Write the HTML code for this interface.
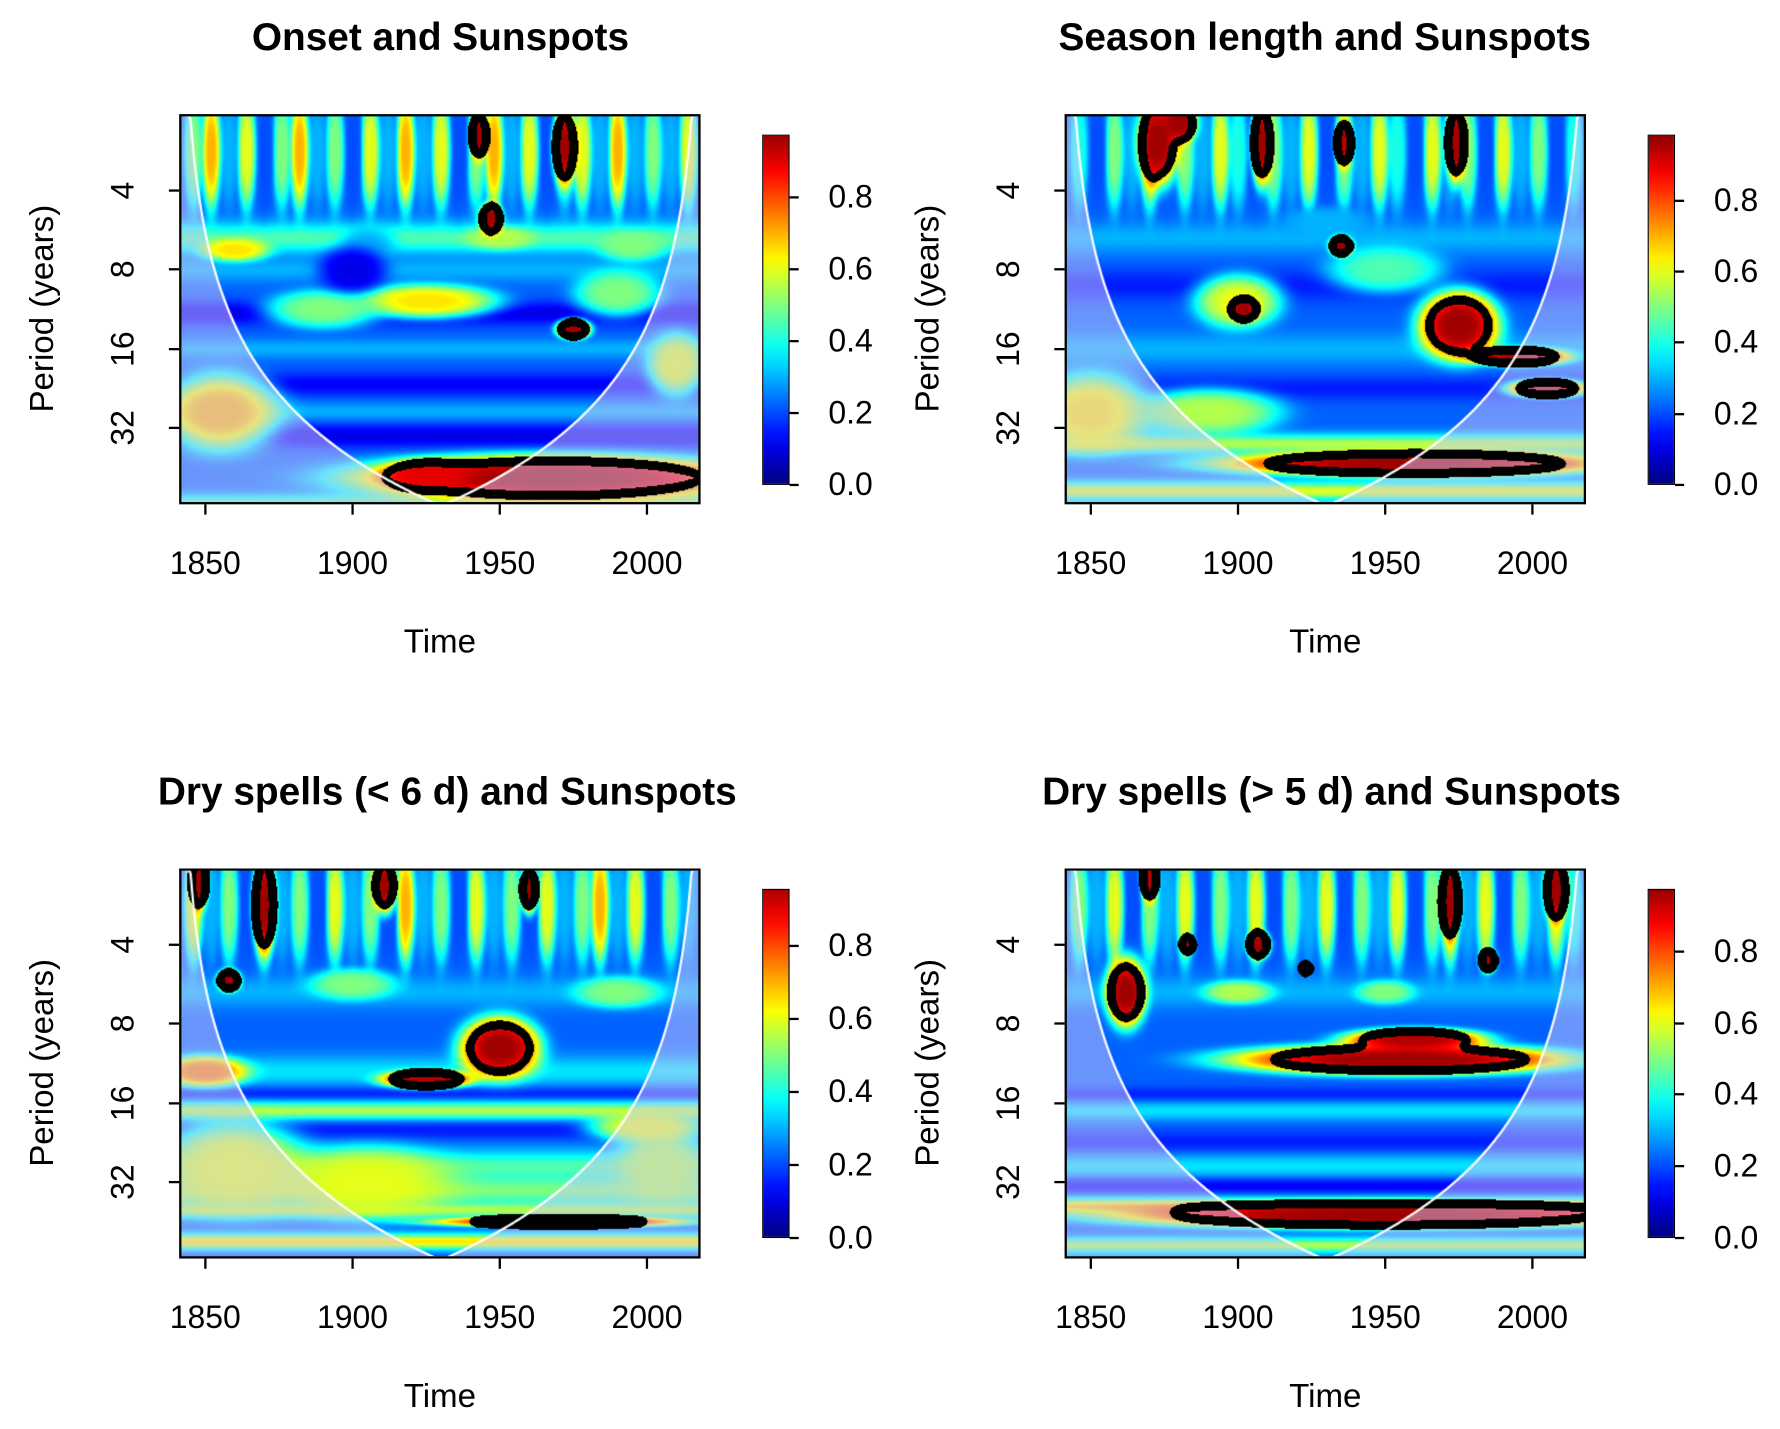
<!DOCTYPE html>
<html><head><meta charset="utf-8"><style>
html,body{margin:0;padding:0;background:#fff;overflow:hidden}
#wrap{position:absolute;left:0;top:0;width:1560px;height:1252px;transform:scale(1.14103);transform-origin:0 0;font-family:"Liberation Sans",Arial,sans-serif}
.abs{position:absolute}
.title{position:absolute;font-weight:bold;font-size:34px;white-space:nowrap;transform:translateX(-50%)}
.tl{position:absolute;font-size:28px;white-space:nowrap}
canvas{position:absolute}
</style></head><body>
<div id="wrap"></div>
<script>
// ---------- data ----------
const xTicks=[1850,1900,1950,2000];
const yTicks=[4,8,16,32];
const cbTicks=[0.0,0.2,0.4,0.6,0.8];
const titles=["Onset and Sunspots","Season length and Sunspots","Dry spells (< 6 d) and Sunspots","Dry spells (> 5 d) and Sunspots"];
// horizontal bands: [log2 period, value, half-height octaves]
const bands1=[[2.6,0.45,0.2],[3.0,0.3,0.15],[3.55,0.1,0.15],[4.0,0.3,0.12],[4.45,0.12,0.15],[4.8,0.3,0.12],[5.1,0.1,0.15],[5.95,0.45,0.12]];
const bands2=[[2.6,0.3,0.2],[3.2,0.15,0.2],[4.0,0.3,0.2],[4.5,0.15,0.15],[5.2,0.55,0.12],[5.8,0.6,0.12],[6.0,0.35,0.1]];
const bands3=[[2.6,0.3,0.2],[3.6,0.35,0.2],[3.9,0.15,0.1],[4.1,0.55,0.12],[4.35,0.15,0.12],[4.8,0.45,0.2],[5.1,0.5,0.2],[5.35,0.55,0.1],[5.75,0.65,0.1],[6.0,0.2,0.08]];
const bands4=[[2.6,0.3,0.2],[3.9,0.15,0.1],[4.1,0.35,0.12],[4.5,0.15,0.15],[4.8,0.35,0.15],[5.05,0.12,0.1],[5.3,0.65,0.1],[5.8,0.55,0.1],[6.0,0.3,0.1]];
// blobs: [year, log2 period, value, half-width years, half-height octaves]
const blobs1=[[1855,4.8,0.7,20,0.5],[1860,2.75,0.65,12,0.15],[1905,2.7,0.3,10,0.25],[1950,2.6,0.55,12,0.15],[1995,2.7,0.5,12,0.2],
[1925,3.4,0.65,25,0.22],[1890,3.5,0.5,20,0.25],[1990,3.3,0.5,15,0.3],[2010,4.2,0.6,10,0.4],[1900,3.0,0.1,12,0.3],
[1968,5.63,0.97,70,0.3],[1925,5.6,0.9,15,0.2],[1975,3.75,0.97,6,0.13],[1947,2.35,0.97,4,0.2],[1972,1.45,0.97,4,0.5],[1943,1.3,0.97,3,0.3]];
const blobs2=[[1850,4.8,0.65,20,0.5],[1890,4.8,0.55,25,0.3],[1900,3.4,0.6,15,0.35],[1950,3.0,0.45,20,0.3],[1930,2.4,0.3,15,0.2],
[1960,5.45,0.97,70,0.17],[1975,3.7,0.97,14,0.45],[1995,4.1,0.95,18,0.12],[2005,4.5,0.95,14,0.12],
[1902,3.5,0.97,5,0.15],[1935,2.7,0.97,4,0.13],[1873,1.4,0.97,7,0.55],[1880,1.15,0.97,6,0.25],[1908,1.4,0.97,3.5,0.55],[1936,1.4,0.95,3,0.3],[1974,1.4,0.97,3.5,0.5]];
const blobs3=[[1860,4.8,0.6,25,0.6],[1905,5.0,0.6,30,0.45],[2005,4.8,0.55,15,0.5],[1850,3.6,0.75,15,0.2],[2000,4.3,0.6,20,0.2],[1900,2.5,0.5,15,0.2],[1990,2.6,0.5,15,0.2],
[1950,3.3,0.97,14,0.4],[1925,3.7,0.95,16,0.12],[1858,2.45,0.97,4,0.14],
[1848,1.2,0.97,3,0.35],[1870,1.5,0.97,4,0.6],[1911,1.25,0.97,4,0.35],[1960,1.3,0.97,3,0.3],[1970,5.5,0.9,45,0.07]];
const blobs4=[[1955,3.45,0.97,60,0.2],[1960,3.2,0.95,25,0.15],[1862,2.6,0.97,7,0.45],[1950,5.42,0.97,95,0.17],
[1870,1.15,0.95,3,0.3],[1907,2.0,0.97,4,0.18],[1883,2.0,0.93,2.5,0.12],[1972,1.45,0.97,3.5,0.45],[2008,1.3,0.97,4,0.4],[1923,2.3,0.95,2,0.08],[1985,2.2,0.97,3,0.15],
[1900,2.6,0.55,12,0.15],[1950,2.6,0.5,10,0.15]];
// top streak values at years 1846,1852,...,2014 (period ~2.5)
const streak1=[0.5,0.7,0.3,0.6,0.2,0.5,0.7,0.3,0.5,0.2,0.6,0.3,0.7,0.3,0.6,0.2,0.5,0.7,0.3,0.6,0.2,0.4,0.6,0.3,0.7,0.3,0.5,0.3,0.6];
const streak2=[0.4,0.2,0.5,0.3,0.6,0.2,0.5,0.3,0.6,0.4,0.2,0.5,0.3,0.6,0.2,0.5,0.3,0.6,0.4,0.2,0.6,0.3,0.5,0.2,0.6,0.3,0.5,0.2,0.4];
const streak3=[0.6,0.3,0.5,0.2,0.6,0.3,0.5,0.2,0.6,0.3,0.5,0.2,0.7,0.3,0.5,0.2,0.6,0.3,0.5,0.2,0.6,0.3,0.5,0.7,0.3,0.6,0.2,0.5,0.3];
const streak4=[0.5,0.3,0.6,0.2,0.5,0.3,0.6,0.2,0.5,0.3,0.6,0.2,0.5,0.3,0.6,0.2,0.5,0.3,0.6,0.2,0.5,0.7,0.3,0.6,0.2,0.5,0.3,0.6,0.4];

const panels=[
 {x:158,y:101,bands:bands1,blobs:blobs1,streak:streak1,cbx:668,cby0:425,cbPer:63.0,cbTop:118,t:titles[0],tx:386,ty:14},
 {x:934,y:101,bands:bands2,blobs:blobs2,streak:streak2,cbx:1444,cby0:425,cbPer:62.3,cbTop:118,t:titles[1],tx:1161,ty:14},
 {x:158,y:762,bands:bands3,blobs:blobs3,streak:streak3,cbx:668,cby0:1085,cbPer:64.0,cbTop:779,t:titles[2],tx:392,ty:675},
 {x:934,y:762,bands:bands4,blobs:blobs4,streak:streak4,cbx:1444,cby0:1085,cbPer:62.8,cbTop:779,t:titles[3],tx:1167,ty:675}];

const W=455,H=340,T0=1841.5,T1=2017.8,L0=1.05,L1=5.95;
function xs(t){return (t-T0)/(T1-T0)*W}
function ys(l){return (l-L0)/(L1-L0)*H}
function jet(v){const c=x=>Math.max(0,Math.min(1,x));return [c(1.5-Math.abs(4*v-3))*255,c(1.5-Math.abs(4*v-2))*255,c(1.5-Math.abs(4*v-1))*255]}
const wrap=document.getElementById('wrap');
function el(tag,cls,txt){const e=document.createElement(tag);if(cls)e.className=cls;if(txt!=null)e.textContent=txt;wrap.appendChild(e);return e}

panels.forEach((p,pi)=>{
 const ti=el('div','title',p.t);ti.style.left=p.tx+'px';ti.style.top=p.ty+'px';
 
 
 const cv=el('canvas');cv.width=W;cv.height=H;cv.style.left=p.x+'px';cv.style.top=p.y+'px';
 
 
 const ctx=cv.getContext('2d');const img=ctx.createImageData(W,H);
 const blobs=p.blobs.slice();
 p.streak.forEach((v,i)=>blobs.unshift([1846+6*i,1.5,v,3.2,0.75]));
 const F=new Float32Array(W*H);
 for(let j=0;j<H;j++){const l=L0+(j+0.5)/H*(L1-L0);
  let b=0.22;
  p.bands.forEach(bd=>{const g=Math.exp(-Math.pow((l-bd[0])/bd[2],2));b=b*(1-g)+bd[1]*g});
  for(let i=0;i<W;i++){const t=T0+(i+0.5)/W*(T1-T0);let v=b;
   for(const k of blobs){const dt=(t-k[0])/k[3],dl=(l-k[1])/k[4];const q=dt*dt+dl*dl;if(q<5){const g=Math.exp(-q*q);v=v*(1-g)+k[2]*g}}
   F[j*W+i]=v;}}
 const nb=[];for(let dx=-4;dx<=4;dx++)for(let dy=-4;dy<=4;dy++){if(dx*dx+dy*dy<=16&&(dx||dy))nb.push([dx,dy]);}
 for(let j=0;j<H;j++){const l=L0+(j+0.5)/H*(L1-L0);const per=Math.pow(2,l);
  for(let i=0;i<W;i++){const t=T0+(i+0.5)/W*(T1-T0);const d=Math.min(t-1842,2018-t);
   let [r,g,b]=jet(F[j*W+i]);
   if(per>0.72*d){r=r*0.5+105;g=g*0.5+100;b=b*0.5+125;}
   const s=F[j*W+i]>=0.8;let edge=false;
   for(const [dx,dy] of nb){const x2=i+dx,y2=j+dy;if(x2<0||y2<0||x2>=W||y2>=H)continue;if((F[y2*W+x2]>=0.8)!==s){edge=true;break}}
   const o=(j*W+i)*4;
   if(edge){r=g=b=0}
   img.data[o]=Math.min(255,r);img.data[o+1]=Math.min(255,g);img.data[o+2]=Math.min(255,b);img.data[o+3]=255;}}
 ctx.putImageData(img,0,0);
 ctx.strokeStyle='#fff';ctx.lineWidth=2;ctx.beginPath();
 for(let t=1843;t<=2017;t+=0.5){const d=Math.min(t-1842,2018-t);const l=Math.log2(0.72*d);const yy=Math.min(H,Math.max(0,ys(l)));if(t===1843)ctx.moveTo(xs(t),yy);else ctx.lineTo(xs(t),yy)}
 ctx.stroke();
 const bx=el('div','abs');Object.assign(bx.style,{left:(p.x-1)+'px',top:(p.y-1)+'px',width:(W+2)+'px',height:(H+2)+'px',border:'2px solid #000',boxSizing:'border-box'});
 
 
 xTicks.forEach(t=>{const x=p.x+xs(t);
  const tk=el('div','abs');Object.assign(tk.style,{left:(x-1)+'px',top:(p.y+H+1)+'px',width:'2px',height:'9px',background:'#000'});
  
  
  const lb=el('div','tl',String(t));lb.style.left=(x-35)+'px';lb.style.top=(p.y+H+37)+'px';lb.style.width='70px';lb.style.textAlign='center';
  
  });
 yTicks.forEach(v=>{const y=p.y+ys(Math.log2(v));
  const tk=el('div','abs');Object.assign(tk.style,{left:(p.x-10)+'px',top:(y-1)+'px',width:'9px',height:'2px',background:'#000'});
  
  
  const lb=el('div','tl',String(v));Object.assign(lb.style,{left:(p.x-70)+'px',top:(y-16)+'px',width:'40px',textAlign:'center',transform:'rotate(-90deg)'});
  
  });
 const yl=el('div','tl','Period (years)');Object.assign(yl.style,{left:(p.x-220)+'px',top:(p.y+H/2-17)+'px',width:'200px',textAlign:'center',transform:'rotate(-90deg)',fontSize:'29px'});
 
 
 const xl=el('div','tl','Time');Object.assign(xl.style,{left:(p.x+W/2-60)+'px',top:(p.y+H+106)+'px',width:'120px',textAlign:'center',fontSize:'29px'});
 
 
 const topV=(p.cby0-p.cbTop)/p.cbPer*0.2;const stops=[];
 for(let k=0;k<=20;k++){const v=topV*k/20;const c=jet(v).map(Math.round);stops.push('rgb('+c.join(',')+') '+(k*5)+'%');}
 const cb=el('div','abs');Object.assign(cb.style,{left:p.cbx+'px',top:p.cbTop+'px',width:'24px',height:(p.cby0-p.cbTop)+'px',border:'1.5px solid #000',boxSizing:'border-box',background:'linear-gradient(to top,'+stops.join(',')+')'});
 
 
 cbTicks.forEach(v=>{const y=p.cby0-v/0.2*p.cbPer;
  const tk=el('div','abs');Object.assign(tk.style,{left:(p.cbx+24)+'px',top:(y-1)+'px',width:'8px',height:'2px',background:'#000'});
  
  
  const lb=el('div','tl',v.toFixed(1));lb.style.left=(p.cbx+58)+'px';lb.style.top=(y-16)+'px';
  
  });
});
</script>
</body></html>
